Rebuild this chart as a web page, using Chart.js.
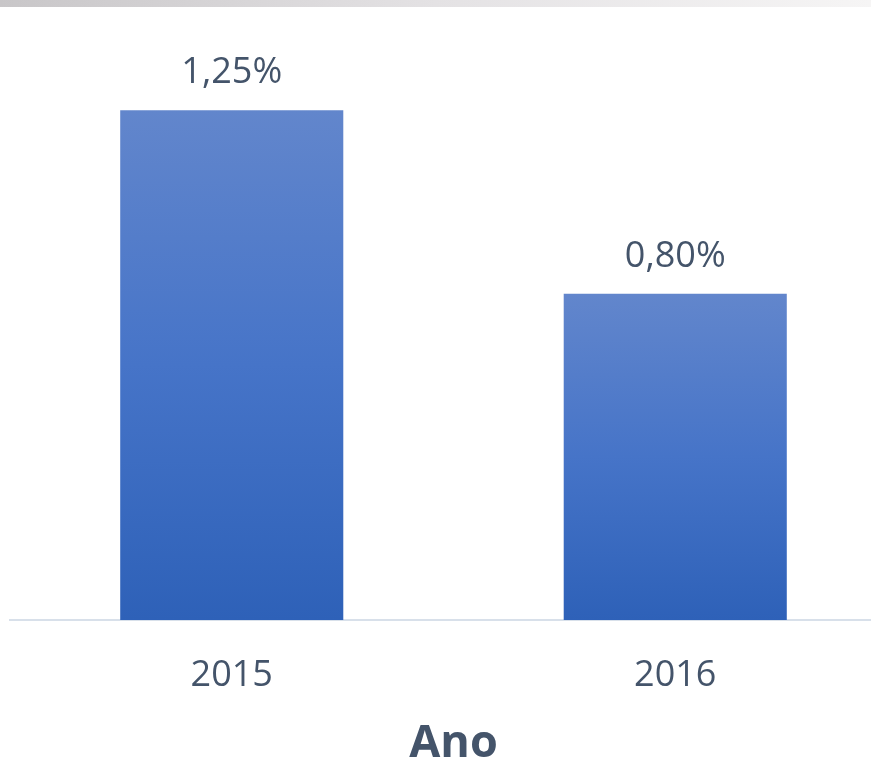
<!DOCTYPE html>
<html>
<head>
<meta charset="utf-8">
<script src="https://cdn.jsdelivr.net/npm/chart.js@4/dist/chart.umd.min.js"></script>
<style>
  html, body { margin: 0; padding: 0; background: #ffffff; overflow: hidden; }
  #topbar { position: absolute; left: 0; top: 0; width: 871px; height: 7px;
            background: linear-gradient(to right, #c8c6c8, #e4e2e4 50%, #f6f5f5); }
  #wrap { position: absolute; left: 0; top: 0; width: 900px; height: 762px; }
</style>
</head>
<body>
<div id="wrap"><canvas id="c" width="900" height="762"></canvas></div>
<div id="topbar"></div>
<script>
const categories = ['2015', '2016'];
const values = [1.25, 0.80];
const valueLabels = ['1,25%', '0,80%'];
const axisTitle = 'Ano';

const textColor = '#44546a';
const fontFamily = '"Open Sans", "Liberation Sans", sans-serif';

const dataLabels = {
  id: 'dataLabels',
  afterDatasetsDraw(chart) {
    const ctx = chart.ctx;
    const meta = chart.getDatasetMeta(0);
    ctx.save();
    ctx.font = '36px ' + fontFamily;
    ctx.fillStyle = textColor;
    ctx.textAlign = 'center';
    ctx.textBaseline = 'alphabetic';
    meta.data.forEach((bar, i) => {
      ctx.fillText(valueLabels[i], bar.x, bar.y - 27);
    });
    ctx.restore();
  }
};

function barGradient(context) {
  const chart = context.chart;
  const { ctx, chartArea, scales } = chart;
  if (!chartArea || context.type !== 'data') return '#4472c4';
  const v = context.dataset.data[context.dataIndex];
  const top = scales.y.getPixelForValue(v);
  const bottom = scales.y.getPixelForValue(0);
  const g = ctx.createLinearGradient(0, top, 0, bottom);
  g.addColorStop(0, '#6286cc');
  g.addColorStop(0.5, '#4674c8');
  g.addColorStop(1, '#2e61b8');
  return g;
}

new Chart(document.getElementById('c'), {
  type: 'bar',
  data: {
    labels: categories,
    datasets: [{
      data: values,
      backgroundColor: barGradient,
      borderWidth: 0,
      categoryPercentage: 1,
      barPercentage: 0.503
    }]
  },
  options: {
    responsive: false,
    animation: false,
    layout: { padding: { left: 10, right: 3, top: 49, bottom: 0 } },
    plugins: { legend: { display: false }, tooltip: { enabled: false } },
    scales: {
      y: { display: false, min: 0, max: 1.4 },
      x: {
        afterFit(scale) { scale.height = 142; },
        grid: { display: false, drawTicks: false },
        border: { display: true, color: '#d8e0ea', width: 2 },
        ticks: { color: textColor, font: { family: fontFamily, size: 36 }, padding: 34 },
        title: {
          display: true, text: axisTitle, color: textColor,
          font: { family: fontFamily, size: 45, weight: 'bold', lineHeight: 0.75 },
          padding: { top: 0, bottom: 1 }
        }
      }
    }
  },
  plugins: [dataLabels]
});
</script>
</body>
</html>
